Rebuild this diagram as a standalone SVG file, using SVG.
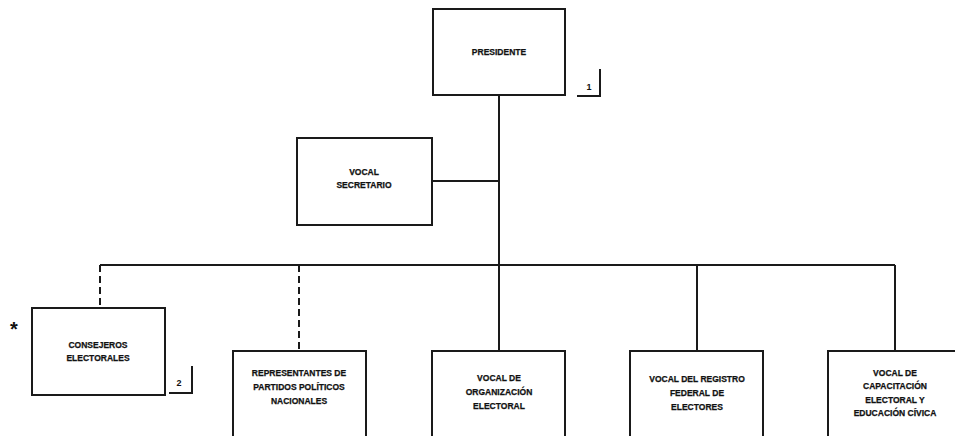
<svg xmlns="http://www.w3.org/2000/svg" width="955" height="436" viewBox="0 0 955 436">
<style>
.box{fill:#fff;stroke:#1a1a1a;stroke-width:2}
.ln{fill:none;stroke:#1a1a1a;stroke-width:2}
.dash{fill:none;stroke:#1a1a1a;stroke-width:2;stroke-dasharray:7 4}
.t{font-family:"Liberation Sans",Arial,sans-serif;font-weight:bold;font-size:8.5px;fill:#111;stroke:#111;stroke-width:0.25;text-anchor:middle}
.n{font-family:"Liberation Sans",Arial,sans-serif;font-weight:bold;font-size:9px;fill:#111;text-anchor:middle}
</style>
<rect width="955" height="436" fill="#fff"/>
<g id="connectors">
<path class="ln" d="M499 95 V351"/>
<path class="ln" d="M432 181 H499"/>
<path class="ln" d="M100 265 H895"/>
<path class="dash" d="M100 265 V308"/>
<path class="dash" d="M299 265 V351"/>
<path class="ln" d="M697 265 V351"/>
<path class="ln" d="M895 265 V351"/>
</g>
<g id="presidente">
<rect class="box" x="433" y="9" width="132" height="86"/>
<text class="t" x="499" y="55">PRESIDENTE</text>
<path class="ln" d="M577 96 H600 V69"/>
<text class="n" x="589" y="90">1</text>
</g>
<g id="vocal-secretario">
<rect class="box" x="297" y="138" width="135" height="87"/>
<text class="t" x="364" y="175">VOCAL</text>
<text class="t" x="364" y="188">SECRETARIO</text>
</g>
<g id="consejeros">
<rect class="box" x="32" y="308" width="133" height="87"/>
<text class="t" x="98" y="348">CONSEJEROS</text>
<text class="t" x="98" y="361">ELECTORALES</text>
<path class="ln" d="M169 393 H192 V366"/>
<text class="n" x="179" y="386">2</text>
<text x="14" y="336" style="font-family:'Liberation Sans',Arial,sans-serif;font-weight:bold;font-size:20px;fill:#111" text-anchor="middle">*</text>
</g>
<g id="representantes">
<rect class="box" x="233" y="351" width="133" height="95"/>
<text class="t" x="299" y="376">REPRESENTANTES DE</text>
<text class="t" x="299" y="390">PARTIDOS POLÍTICOS</text>
<text class="t" x="299" y="404">NACIONALES</text>
</g>
<g id="vocal-organizacion">
<rect class="box" x="432" y="351" width="133" height="95"/>
<text class="t" x="499" y="381">VOCAL DE</text>
<text class="t" x="499" y="395">ORGANIZACIÓN</text>
<text class="t" x="499" y="409">ELECTORAL</text>
</g>
<g id="vocal-registro">
<rect class="box" x="630" y="351" width="133" height="95"/>
<text class="t" x="697" y="382">VOCAL DEL REGISTRO</text>
<text class="t" x="697" y="396">FEDERAL DE</text>
<text class="t" x="697" y="410">ELECTORES</text>
</g>
<g id="vocal-capacitacion">
<rect class="box" x="828" y="351" width="134" height="95"/>
<text class="t" x="895" y="376">VOCAL DE</text>
<text class="t" x="895" y="389">CAPACITACIÓN</text>
<text class="t" x="895" y="403">ELECTORAL Y</text>
<text class="t" x="895" y="416">EDUCACIÓN CÍVICA</text>
</g>
</svg>
